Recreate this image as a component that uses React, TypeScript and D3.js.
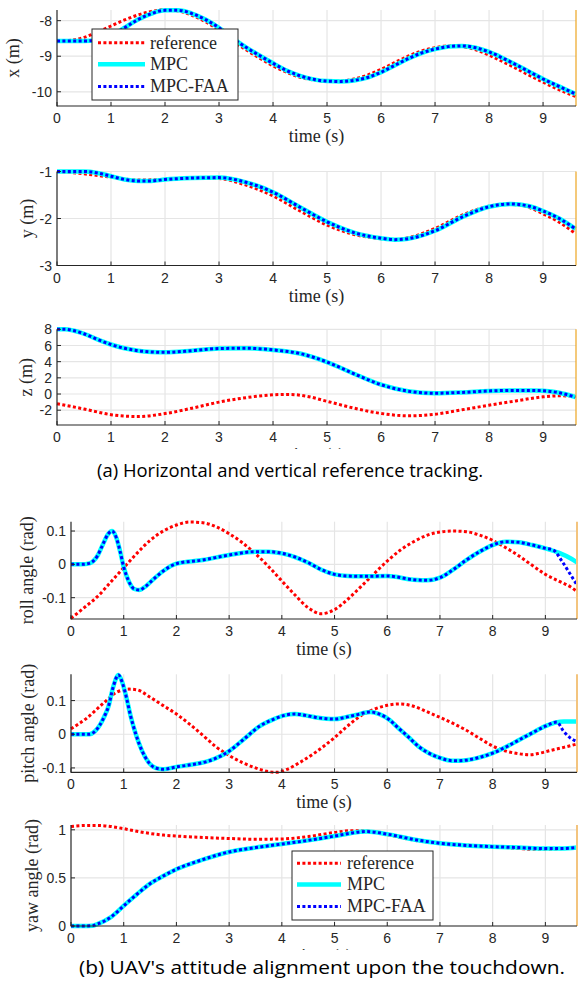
import React from "react";
import * as d3 from "d3";

type Pt = [number, number];

// ---- data: [time (s), value] ----
const timeTicks = [0, 1, 2, 3, 4, 5, 6, 7, 8, 9];
const legendNames = ["reference", "MPC", "MPC-FAA"];

const refX: Pt[] = [[0,-8.57],[0.25,-8.55],[0.5,-8.47],[0.75,-8.32],[1,-8.15],[1.25,-7.98],[1.5,-7.84],[1.75,-7.74],[2,-7.69],[2.25,-7.73],[2.5,-7.85],[2.75,-8.03],[3,-8.27],[3.25,-8.56],[3.5,-8.82],[3.75,-9.05],[4,-9.27],[4.25,-9.45],[4.5,-9.59],[4.75,-9.67],[5,-9.71],[5.25,-9.7],[5.5,-9.64],[5.75,-9.53],[6,-9.37],[6.25,-9.18],[6.5,-9.0],[6.75,-8.85],[7,-8.76],[7.25,-8.71],[7.5,-8.73],[7.75,-8.82],[8,-8.97],[8.25,-9.15],[8.5,-9.34],[8.75,-9.54],[9,-9.73],[9.25,-9.91],[9.5,-10.07],[9.6,-10.13]];
const mpcX: Pt[] = [[0,-8.57],[0.25,-8.57],[0.5,-8.57],[0.75,-8.55],[1,-8.43],[1.25,-8.2],[1.5,-7.97],[1.75,-7.8],[2,-7.71],[2.25,-7.71],[2.5,-7.8],[2.75,-7.97],[3,-8.2],[3.25,-8.49],[3.5,-8.75],[3.75,-8.98],[4,-9.2],[4.25,-9.4],[4.5,-9.55],[4.75,-9.65],[5,-9.7],[5.25,-9.71],[5.5,-9.68],[5.75,-9.6],[6,-9.45],[6.25,-9.26],[6.5,-9.07],[6.75,-8.91],[7,-8.8],[7.25,-8.73],[7.5,-8.71],[7.75,-8.76],[8,-8.88],[8.25,-9.05],[8.5,-9.24],[8.75,-9.44],[9,-9.64],[9.25,-9.82],[9.5,-9.99],[9.6,-10.06]];
const faaX: Pt[] = mpcX;

const refY: Pt[] = [[0,-1.0],[0.5,-1.05],[1,-1.12],[1.5,-1.18],[2,-1.17],[2.5,-1.13],[3,-1.15],[3.5,-1.29],[4,-1.52],[4.5,-1.84],[5,-2.14],[5.5,-2.34],[6,-2.43],[6.25,-2.45],[6.5,-2.41],[7,-2.21],[7.5,-1.93],[8,-1.74],[8.3,-1.7],[8.6,-1.72],[9,-1.9],[9.3,-2.08],[9.6,-2.32]];
const mpcY: Pt[] = [[0,-1.0],[0.25,-1.0],[0.5,-1.0],[0.75,-1.03],[1,-1.1],[1.25,-1.17],[1.5,-1.2],[1.75,-1.2],[2,-1.17],[2.5,-1.14],[3,-1.13],[3.5,-1.23],[4,-1.44],[4.5,-1.76],[5,-2.07],[5.5,-2.3],[6,-2.42],[6.25,-2.45],[6.5,-2.43],[7,-2.26],[7.5,-1.97],[8,-1.75],[8.4,-1.69],[8.75,-1.74],[9,-1.84],[9.3,-2.0],[9.6,-2.22]];
const faaY: Pt[] = mpcY;

const refZ: Pt[] = [[0,-1.2],[0.5,-1.85],[1,-2.55],[1.5,-2.78],[2,-2.42],[2.5,-1.75],[3,-1.0],[3.5,-0.45],[4,-0.1],[4.3,-0.05],[4.6,-0.25],[5,-0.9],[5.5,-1.75],[6,-2.4],[6.5,-2.7],[7,-2.5],[7.5,-1.95],[8,-1.38],[8.5,-0.85],[9,-0.35],[9.3,-0.22],[9.6,-0.3]];
const mpcZ: Pt[] = [[0,8.0],[0.15,8.0],[0.3,7.85],[0.5,7.45],[0.75,6.75],[1,6.12],[1.25,5.65],[1.5,5.35],[1.75,5.2],[2,5.15],[2.5,5.35],[3,5.62],[3.5,5.66],[4,5.45],[4.5,5.0],[5,3.95],[5.5,2.5],[6,1.15],[6.5,0.35],[7,0.1],[7.5,0.2],[8,0.38],[8.5,0.45],[8.8,0.45],[9,0.4],[9.3,0.15],[9.6,-0.38]];
const faaZ: Pt[] = mpcZ;

const refRoll: Pt[] = [[0,-0.162],[0.25,-0.13],[0.5,-0.097],[0.75,-0.054],[1,-0.01],[1.25,0.033],[1.5,0.072],[1.75,0.1],[2,0.118],[2.25,0.127],[2.5,0.125],[2.75,0.113],[3,0.092],[3.25,0.065],[3.5,0.032],[3.75,-0.007],[4,-0.05],[4.25,-0.092],[4.5,-0.13],[4.75,-0.148],[5,-0.136],[5.25,-0.105],[5.5,-0.067],[5.75,-0.028],[6,0.01],[6.25,0.043],[6.5,0.068],[6.75,0.087],[7,0.097],[7.25,0.1],[7.5,0.098],[7.75,0.088],[8,0.072],[8.25,0.05],[8.5,0.025],[8.75,-0.003],[9,-0.03],[9.25,-0.05],[9.5,-0.07],[9.6,-0.082]];
const mpcRoll: Pt[] = [[0,0],[0.2,0],[0.35,0.003],[0.5,0.025],[0.6,0.058],[0.7,0.09],[0.78,0.1],[0.86,0.08],[0.93,0.04],[1,-0.008],[1.1,-0.052],[1.2,-0.074],[1.3,-0.077],[1.4,-0.068],[1.5,-0.054],[1.75,-0.02],[2,0.002],[2.5,0.013],[3,0.028],[3.5,0.038],[3.75,0.038],[4,0.033],[4.25,0.022],[4.5,0.005],[4.75,-0.016],[5,-0.03],[5.25,-0.035],[5.5,-0.036],[6,-0.035],[6.5,-0.046],[6.75,-0.048],[7,-0.04],[7.25,-0.016],[7.5,0.013],[7.75,0.038],[8,0.058],[8.25,0.068],[8.5,0.066],[8.75,0.058],[9,0.048],[9.25,0.035],[9.5,0.016],[9.6,0.006]];
const faaRoll: Pt[] = [[0,0],[0.2,0],[0.35,0.003],[0.5,0.025],[0.6,0.058],[0.7,0.09],[0.78,0.1],[0.86,0.08],[0.93,0.04],[1,-0.008],[1.1,-0.052],[1.2,-0.074],[1.3,-0.077],[1.4,-0.068],[1.5,-0.054],[1.75,-0.02],[2,0.002],[2.5,0.013],[3,0.028],[3.5,0.038],[3.75,0.038],[4,0.033],[4.25,0.022],[4.5,0.005],[4.75,-0.016],[5,-0.03],[5.25,-0.035],[5.5,-0.036],[6,-0.035],[6.5,-0.046],[6.75,-0.048],[7,-0.04],[7.25,-0.016],[7.5,0.013],[7.75,0.038],[8,0.058],[8.25,0.068],[8.5,0.066],[8.75,0.058],[9,0.048],[9.15,0.043],[9.3,0.013],[9.45,-0.024],[9.6,-0.062]];

const refPitch: Pt[] = [[0,0.016],[0.3,0.048],[0.6,0.09],[0.87,0.125],[1.1,0.134],[1.25,0.132],[1.5,0.11],[1.75,0.085],[2,0.06],[2.25,0.03],[2.5,-0.003],[2.75,-0.037],[3,-0.063],[3.25,-0.084],[3.5,-0.1],[3.75,-0.111],[3.9,-0.113],[4.1,-0.104],[4.35,-0.083],[4.6,-0.058],[4.8,-0.035],[5,-0.01],[5.25,0.025],[5.5,0.055],[5.75,0.074],[6,0.086],[6.25,0.09],[6.5,0.083],[6.75,0.067],[7,0.05],[7.25,0.032],[7.5,0.012],[7.75,-0.012],[8,-0.035],[8.25,-0.05],[8.5,-0.058],[8.7,-0.061],[8.9,-0.056],[9.1,-0.048],[9.35,-0.039],[9.6,-0.029]];
const mpcPitch: Pt[] = [[0,0],[0.35,0],[0.45,0.008],[0.55,0.028],[0.63,0.052],[0.71,0.082],[0.8,0.14],[0.9,0.176],[0.97,0.155],[1.05,0.11],[1.13,0.055],[1.23,0.0],[1.35,-0.05],[1.48,-0.085],[1.6,-0.1],[1.75,-0.104],[2,-0.097],[2.3,-0.09],[2.6,-0.08],[2.85,-0.064],[3,-0.05],[3.3,-0.012],[3.57,0.023],[3.85,0.045],[4.05,0.056],[4.25,0.06],[4.45,0.056],[4.65,0.05],[4.85,0.046],[5,0.045],[5.2,0.05],[5.4,0.057],[5.68,0.066],[5.85,0.06],[6.04,0.043],[6.2,0.02],[6.4,-0.008],[6.6,-0.037],[6.8,-0.057],[7,-0.07],[7.15,-0.077],[7.3,-0.079],[7.5,-0.077],[7.72,-0.07],[8,-0.056],[8.25,-0.038],[8.5,-0.017],[8.75,0.004],[9,0.024],[9.2,0.035],[9.35,0.038],[9.6,0.038]];
const faaPitch: Pt[] = [[0,0],[0.35,0],[0.45,0.008],[0.55,0.028],[0.63,0.052],[0.71,0.082],[0.8,0.14],[0.9,0.176],[0.97,0.155],[1.05,0.11],[1.13,0.055],[1.23,0.0],[1.35,-0.05],[1.48,-0.085],[1.6,-0.1],[1.75,-0.104],[2,-0.097],[2.3,-0.09],[2.6,-0.08],[2.85,-0.064],[3,-0.05],[3.3,-0.012],[3.57,0.023],[3.85,0.045],[4.05,0.056],[4.25,0.06],[4.45,0.056],[4.65,0.05],[4.85,0.046],[5,0.045],[5.2,0.05],[5.4,0.057],[5.68,0.066],[5.85,0.06],[6.04,0.043],[6.2,0.02],[6.4,-0.008],[6.6,-0.037],[6.8,-0.057],[7,-0.07],[7.15,-0.077],[7.3,-0.079],[7.5,-0.077],[7.72,-0.07],[8,-0.056],[8.25,-0.038],[8.5,-0.017],[8.75,0.004],[9,0.024],[9.22,0.036],[9.34,0.01],[9.45,-0.008],[9.6,-0.022]];

const refYaw: Pt[] = [[0,1.035],[0.25,1.045],[0.5,1.046],[0.75,1.035],[1,1.012],[1.25,0.985],[1.5,0.962],[1.75,0.945],[2,0.935],[2.5,0.92],[3,0.91],[3.5,0.902],[4,0.905],[4.5,0.93],[5,0.972],[5.3,0.99],[5.6,0.988],[6,0.95],[6.5,0.893],[7,0.86],[7.5,0.84],[8,0.825],[8.5,0.805],[8.75,0.797],[9,0.797],[9.3,0.804],[9.6,0.815]];
const mpcYaw: Pt[] = [[0,0],[0.25,0],[0.4,0.003],[0.5,0.02],[0.75,0.09],[1,0.21],[1.25,0.33],[1.5,0.44],[1.75,0.52],[2,0.59],[2.5,0.69],[3,0.77],[3.5,0.815],[4,0.852],[4.5,0.89],[5,0.935],[5.3,0.965],[5.6,0.982],[6,0.955],[6.5,0.9],[7,0.86],[7.5,0.838],[8,0.825],[8.5,0.815],[9,0.805],[9.3,0.805],[9.6,0.815]];
const faaYaw: Pt[] = mpcYaw;

const AX = "#262626";
const GRID = "#e5e5e5";
const TICK_FONT = "'Liberation Sans', Arial, sans-serif";
const SERIF = "'Liberation Serif', 'Times New Roman', serif";
const CAPTION_FONT = "'Open Sans', 'Noto Sans', sans-serif";

const lineStyles = [
  { stroke: "#ff0000", width: 3, dash: "3 2.4" },
  { stroke: "#00ffff", width: 4.5, dash: undefined },
  { stroke: "#0000ff", width: 3, dash: "3 2.4" },
];

function Legend({ x, y, w, h, rows, lineX0, lineX1, textX }) {
  return (
    <g>
      <rect x={x} y={y} width={w} height={h} fill="white" stroke={AX} strokeWidth={1} />
      {legendNames.map((name, i) => (
        <g key={name}>
          <line
            x1={lineX0}
            x2={lineX1}
            y1={rows[i]}
            y2={rows[i]}
            stroke={lineStyles[i].stroke}
            strokeWidth={lineStyles[i].width}
            strokeDasharray={lineStyles[i].dash}
          />
          <text x={textX} y={rows[i]} dy="0.33em" fontFamily={SERIF} fontSize={18} fill={AX}>
            {name}
          </text>
        </g>
      ))}
    </g>
  );
}

function Panel({ id, left, right, top, bottom, xMax, yDomain, yTicks, yLabel, labelX, series, timeLabel, orange, orangeW }) {
  const xs = d3.scaleLinear().domain([0, xMax]).range([left, right]);
  const ys = d3.scaleLinear().domain(yDomain).range([bottom, top]);
  const line = d3
    .line<Pt>()
    .x((d) => xs(d[0]))
    .y((d) => ys(d[1]))
    .curve(d3.curveMonotoneX);
  const cy = (top + bottom) / 2;
  const cx = (left + right) / 2;

  return (
    <g>
      {/* grid */}
      {timeTicks.slice(1).map((t) => (
        <line key={"gx" + t} x1={xs(t)} x2={xs(t)} y1={top} y2={bottom} stroke={GRID} strokeWidth={1.2} />
      ))}
      {yTicks.map((v) => (
        <line key={"gy" + v} x1={left} x2={right} y1={ys(v)} y2={ys(v)} stroke={GRID} strokeWidth={1.2} />
      ))}

      {/* series */}
      {series.map((s, i) => (
        <path
          key={i}
          d={line(s)}
          fill="none"
          stroke={lineStyles[i].stroke}
          strokeWidth={lineStyles[i].width}
          strokeDasharray={lineStyles[i].dash}
        />
      ))}

      {/* touchdown marker */}
      <line x1={xs(xMax)} x2={xs(xMax)} y1={top} y2={bottom} stroke={orange} strokeWidth={orangeW} />

      {/* axes */}
      <line x1={left} x2={left} y1={top} y2={bottom + 0.5} stroke={AX} strokeWidth={1.2} />
      <line x1={left} x2={right} y1={bottom} y2={bottom} stroke={AX} strokeWidth={1.2} />
      {timeTicks.map((t) => (
        <g key={"tx" + t}>
          <line x1={xs(t)} x2={xs(t)} y1={bottom} y2={bottom - 4} stroke={AX} strokeWidth={1} />
          <text x={xs(t)} y={bottom + 17} textAnchor="middle" fontFamily={TICK_FONT} fontSize={14} fill={AX}>
            {t}
          </text>
        </g>
      ))}
      {yTicks.map((v) => (
        <g key={"ty" + v}>
          <line x1={left} x2={left + 4} y1={ys(v)} y2={ys(v)} stroke={AX} strokeWidth={1} />
          <text x={left - 5} y={ys(v)} dy="0.36em" textAnchor="end" fontFamily={TICK_FONT} fontSize={14} fill={AX}>
            {String(v)}
          </text>
        </g>
      ))}

      {/* labels */}
      <text
        transform={`translate(${labelX},${cy}) rotate(-90)`}
        textAnchor="middle"
        dy="0.3em"
        fontFamily={SERIF}
        fontSize={18}
        fill={AX}
      >
        {yLabel}
      </text>
      {timeLabel === "full" && (
        <text x={cx} y={bottom + 36} textAnchor="middle" fontFamily={SERIF} fontSize={18} fill={AX}>
          time (s)
        </text>
      )}
      {timeLabel === "clipped" && (
        <g>
          <clipPath id={"clip-" + id}>
            <rect x={left} y={bottom + 20} width={right - left} height={4} />
          </clipPath>
          <text
            x={cx}
            y={bottom + 36}
            textAnchor="middle"
            fontFamily={SERIF}
            fontSize={18}
            fill={AX}
            clipPath={`url(#clip-${id})`}
          >
            time (s)
          </text>
        </g>
      )}
    </g>
  );
}

export default function App() {
  const oA = "#EDA520";
  const oB = "#F3C47E";
  return (
    <svg
      width={580}
      height={984}
      viewBox="0 0 580 984"
      style={{ position: "absolute", left: 0, top: 0, background: "white" }}
    >
      <rect x={0} y={0} width={580} height={984} fill="white" />

      <Panel id="x" left={57} right={576} top={10} bottom={106} xMax={9.61} yDomain={[-10.4, -7.7]}
        yTicks={[-10, -9, -8]} yLabel="x (m)" labelX={14} series={[refX, mpcX, faaX]}
        timeLabel="full" orange={oA} orangeW={1.2} />
      <Legend x={92} y={29} w={146} h={71} rows={[42.7, 64.2, 86.5]} lineX0={98} lineX1={145} textX={150} />

      <Panel id="y" left={57} right={576} top={171.5} bottom={265.5} xMax={9.61} yDomain={[-3, -1]}
        yTicks={[-3, -2, -1]} yLabel="y (m)" labelX={28} series={[refY, mpcY, faaY]}
        timeLabel="full" orange={oA} orangeW={1.2} />

      <Panel id="z" left={57} right={576} top={329.3} bottom={425} xMax={9.61} yDomain={[-3.83, 8]}
        yTicks={[-2, 0, 2, 4, 6, 8]} yLabel="z (m)" labelX={27} series={[refZ, mpcZ, faaZ]}
        timeLabel="clipped" orange={oA} orangeW={1.2} />

      <text x={97} y={477} fontFamily={CAPTION_FONT} fontSize={18} fill="#000"
        textLength={386} lengthAdjust="spacingAndGlyphs">
        (a) Horizontal and vertical reference tracking.
      </text>

      <Panel id="roll" left={71} right={577} top={521.7} bottom={619} xMax={9.6} yDomain={[-0.164, 0.128]}
        yTicks={[-0.1, 0, 0.1]} yLabel="roll angle (rad)" labelX={28} series={[refRoll, mpcRoll, faaRoll]}
        timeLabel="full" orange={oB} orangeW={2} />

      <Panel id="pitch" left={71} right={577} top={674.3} bottom={772.3} xMax={9.6} yDomain={[-0.113, 0.178]}
        yTicks={[-0.1, 0, 0.1]} yLabel="pitch angle (rad)" labelX={29} series={[refPitch, mpcPitch, faaPitch]}
        timeLabel="full" orange={oB} orangeW={2} />

      <Panel id="yaw" left={71} right={577} top={825} bottom={926} xMax={9.6} yDomain={[0, 1.05]}
        yTicks={[0, 0.5, 1]} yLabel="yaw angle (rad)" labelX={33} series={[refYaw, mpcYaw, faaYaw]}
        timeLabel="clipped" orange={oB} orangeW={2} />
      <Legend x={292} y={851} w={141} h={69} rows={[863.3, 884.5, 906.5]} lineX0={297} lineX1={341} textX={347} />

      <text x={79} y={974} fontFamily={CAPTION_FONT} fontSize={18} fill="#000"
        textLength={486} lengthAdjust="spacingAndGlyphs">
        (b) UAV's attitude alignment upon the touchdown.
      </text>
    </svg>
  );
}
